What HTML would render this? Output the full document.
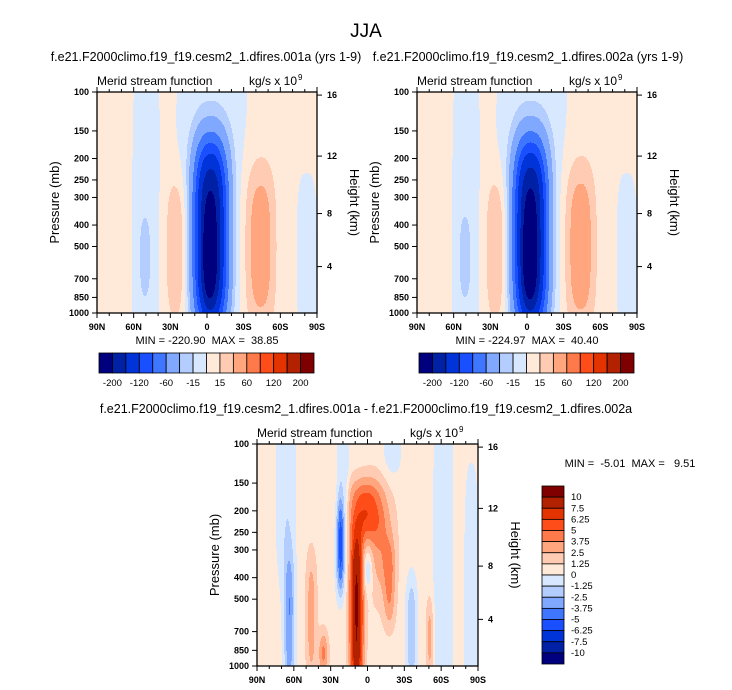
<!DOCTYPE html>
<html><head><meta charset="utf-8">
<style>
body{margin:0;background:#fff;}
#wrap{position:relative;width:732px;height:690px;font-family:"Liberation Sans",sans-serif;}
canvas{position:absolute;image-rendering:pixelated;}
svg{position:absolute;left:0;top:0;}
</style></head>
<body>
<div id="wrap">
<canvas id="c1" width="220" height="221" style="left:97px;top:92px"></canvas>
<canvas id="c2" width="220" height="221" style="left:417px;top:92px"></canvas>
<canvas id="c3" width="221" height="222" style="left:257px;top:444px"></canvas>
<svg id="s" width="732" height="690"></svg>
</div>
<script>
// ---- data ----
const colors=["#00007f","#0020a6","#0034d8","#1a4fff","#3f76ff","#80a8ff","#b4cdff","#d8e8ff","#ffe9d8","#ffcbb2","#ffa67f","#ff7a4a","#ff4d1a","#e23300","#b32200","#800000"];
const levelsTop=[-200,-160,-120,-90,-60,-30,-15,0,15,30,60,90,120,160,200];
const levelsDiff=[-10,-7.5,-6.25,-5,-3.75,-2.5,-1.25,0,1.25,2.5,3.75,5,6.25,7.5,10];
const labelsTop=["-200","-120","-60","-15","15","60","120","200"];
const labelsDiff=["10","7.5","6.25","5","3.75","2.5","1.25","0","-1.25","-2.5","-3.75","-5","-6.25","-7.5","-10"];
const latTicks=["90N","60N","30N","0","30S","60S","90S"];
const presTicks=[100,150,200,250,300,400,500,700,850,1000];
const hgtTicks=["16","12","8","4"];
// blobs: [lat(+N), pressure centre, lat width(deg), v width, amplitude, lat power, v power]
const blobs1=[[-3,460,14,0.44,-215,2.2,3.5],[-2,560,5,0.2,-60,2,2.5],[-44,500,12,0.38,38,2.4,3],[25,520,8.5,0.33,26,2.4,3],[51,560,5,0.2,-14,2,3],
 [-4,115,28,0.33,-12,3,3],[50,450,11,0.75,-12,4,6],[-82,560,8,0.38,-11,3,4]];
const blobs2=[[-3,460,14,0.44,-219,2.2,3.5],[-2,560,5,0.2,-62,2,2.5],[-44,500,12,0.38,40,2.4,3],[25,520,8.5,0.33,27,2.4,3],[51,560,5,0.2,-15,2,3],
 [-4,115,28,0.33,-12,3,3],[50,450,11,0.75,-12,4,6],[-82,560,8,0.38,-11,3,4]];
const blobsD=[[9,560,5.5,0.36,9.6,2,4],[3,195,14,0.14,4.8,2,2.5],[-10,280,12,0.25,2.8,2,2],[22,290,3.5,0.22,-6,2,3],
 [0,370,4,0.1,-3,2,2],[-18,430,5,0.2,2.8,2,3],[64,650,4.5,0.32,-4.2,2,3],[-36,700,4.5,0.25,-3,2,3],
 [46,600,4.5,0.3,2.6,2,3],[36,880,4,0.1,3.5,2,2],[-51,750,3,0.18,2.4,2,3],[67,150,8,0.45,-1.8,3,3],
 [20,130,5,0.3,-1.8,3,3],[-62,300,8,0.8,-1.8,3,3],[-85,600,6,0.7,-1.6,3,3],[-20,110,8,0.12,-1.5,2,2]];
function field(bl,u,v,base){
  const lat=90-180*u;let f=base;
  for(const b of bl){const vc=Math.log10(b[1]/100);
    const dx=Math.abs((lat-b[0])/b[2]),dy=Math.abs((v-vc)/b[3]);
    f+=b[4]*Math.exp(-Math.pow(dx,b[5])-Math.pow(dy,b[6]));}
  return f;}
function draw(id,bl,levels,base){
  const c=document.getElementById(id),ctx=c.getContext('2d');const W=c.width,H=c.height;
  const img=ctx.createImageData(W,H);
  for(let j=0;j<H;j++)for(let i=0;i<W;i++){
    const f=field(bl,i/(W-1),j/(H-1),base);let k=0;while(k<levels.length&&f>levels[k])k++;
    const col=colors[k];const p=(j*W+i)*4;
    img.data[p]=parseInt(col.substr(1,2),16);img.data[p+1]=parseInt(col.substr(3,2),16);img.data[p+2]=parseInt(col.substr(5,2),16);img.data[p+3]=255;}
  ctx.putImageData(img,0,0);}
draw('c1',blobs1,levelsTop,4);draw('c2',blobs2,levelsTop,4);draw('c3',blobsD,levelsDiff,0.6);
// ---- annotations ----
const S=document.getElementById('s');const NS="http://www.w3.org/2000/svg";
function el(t,a,txt){const e=document.createElementNS(NS,t);for(const k in a)e.setAttribute(k,a[k]);if(txt!==undefined)e.textContent=txt;S.appendChild(e);return e;}
let e=el('text',{x:366,y:37,'font-size':19,'text-anchor':'middle'},'JJA');


const hgtFr=[0.014,0.29,0.55,0.79];
function panel(x0,y0,w,h,title,tx,name){
  let t=el('text',{x:tx,y:y0-31,'font-size':12.5,'text-anchor':'middle'},title);
  
  
  t=el('text',{x:x0,y:y0-7,'font-size':12},'Merid stream function');
  
  
  t=el('text',{x:x0+w-20,y:y0-7,'font-size':12,'text-anchor':'end'},'kg/s x 10');
  
  
  el('text',{x:x0+w-19,y:y0-12,'font-size':8},'9');
  let r=el('rect',{x:x0,y:y0,width:w,height:h,fill:'none',stroke:'#000','stroke-width':1.3});
  
  
  for(let d=0;d<=18;d++){const x=x0+w*d/18,L=(d%3==0)?5:3;
    el('line',{x1:x,y1:y0+h,x2:x,y2:y0+h+L,stroke:'#000'});el('line',{x1:x,y1:y0,x2:x,y2:y0-L,stroke:'#000'});}
  latTicks.forEach((s,i)=>{const t=el('text',{x:x0+w*i/6,y:y0+h+17,'font-size':9,'font-weight':'bold','text-anchor':'middle'},s);
    
    });
  presTicks.forEach(p=>{const y=y0+h*Math.log10(p/100);
    el('line',{x1:x0-5,y1:y,x2:x0,y2:y,stroke:'#000'});
    const t=el('text',{x:x0-8,y:y+3,'font-size':9,'font-weight':'bold','text-anchor':'end'},String(p));
    
    });
  hgtTicks.forEach((s,i)=>{const y=y0+h*hgtFr[i];
    el('line',{x1:x0+w,y1:y,x2:x0+w+5,y2:y,stroke:'#000'});
    const t=el('text',{x:x0+w+10,y:y+3,'font-size':9,'font-weight':'bold'},s);
    
    });
  t=el('text',{transform:`translate(${x0-38},${y0+h/2}) rotate(-90)`,'font-size':13,'text-anchor':'middle'},'Pressure (mb)');
  
  
  t=el('text',{transform:`translate(${x0+w+33},${y0+h/2}) rotate(90)`,'font-size':13,'text-anchor':'middle'},'Height (km)');
  
  
}
panel(97,92,220,221,'f.e21.F2000climo.f19_f19.cesm2_1.dfires.001a (yrs 1-9)',206,'panel-001a');
panel(417,92,220,221,'f.e21.F2000climo.f19_f19.cesm2_1.dfires.002a (yrs 1-9)',528,'panel-002a');
panel(257,444,221,222,'f.e21.F2000climo.f19_f19.cesm2_1.dfires.001a - f.e21.F2000climo.f19_f19.cesm2_1.dfires.002a',366,'panel-diff');
e=el('text',{x:207,y:344,'font-size':11,'text-anchor':'middle'},'MIN = -220.90\u00a0\u00a0MAX =\u00a0\u00a038.85');


e=el('text',{x:527,y:344,'font-size':11,'text-anchor':'middle'},'MIN = -224.97\u00a0\u00a0MAX =\u00a0\u00a040.40');


e=el('text',{x:630,y:467,'font-size':11,'text-anchor':'middle'},'MIN =\u00a0\u00a0-5.01\u00a0\u00a0MAX =\u00a0\u00a0\u00a09.51');


function hbar(x0,y0,w,h,name){
  const bw=w/colors.length;
  colors.forEach((c,i)=>{const r=el('rect',{x:x0+i*bw,y:y0,width:bw,height:h,fill:c,stroke:'#000','stroke-width':0.8});
    
    });
  labelsTop.forEach((s,i)=>{const t=el('text',{x:x0+bw*(1+2*i),y:y0+h+13,'font-size':9.5,'text-anchor':'middle'},s);
    
    });
}
hbar(99,353,215,20,'colorbar-001a');hbar(419,353,215,20,'colorbar-002a');
const vbh=178/colors.length;
colors.slice().reverse().forEach((c,i)=>{const r=el('rect',{x:542,y:486+i*vbh,width:22,height:vbh,fill:c,stroke:'#000','stroke-width':0.8});
  
  });
labelsDiff.forEach((s,i)=>{const t=el('text',{x:571,y:486+vbh*(i+1)+3,'font-size':9.5},s);
  
  });
</script>
</body></html>
